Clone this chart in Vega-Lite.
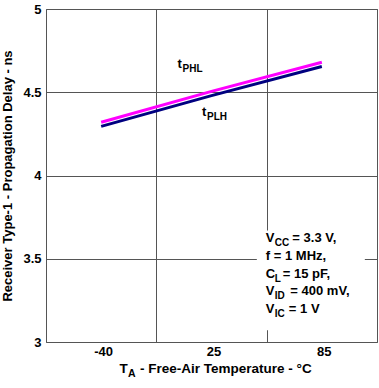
{
  "$schema": "https://vega.github.io/schema/vega-lite/v6.json",
  "autosize": "none",
  "width": 331,
  "height": 333,
  "padding": {"left": 46, "top": 9, "right": 2, "bottom": 46},
  "background": "white",
  "config": {
    "font": "Liberation Sans",
    "view": {"stroke": "#666", "strokeWidth": 1},
    "axis": {"labelFont": "Liberation Sans", "labelFontWeight": "bold", "labelFontSize": 13, "labelColor": "black", "titleFont": "Liberation Sans", "titleFontWeight": "bold", "titleFontSize": 13, "titleColor": "black", "gridColor": "#555", "gridOpacity": 1, "gridWidth": 1, "ticks": false, "domain": false},
    "text": {"font": "Liberation Sans", "fontWeight": "bold", "color": "black", "align": "left", "baseline": "alphabetic"}
  },
  "data": {"values": [
    {"temp": "-40", "delay": 4.32, "series": "tPHL"},
    {"temp": "25", "delay": 4.505, "series": "tPHL"},
    {"temp": "85", "delay": 4.68, "series": "tPHL"},
    {"temp": "-40", "delay": 4.295, "series": "tPLH"},
    {"temp": "25", "delay": 4.48, "series": "tPLH"},
    {"temp": "85", "delay": 4.655, "series": "tPLH"}
  ]},
  "encoding": {
    "x": {"field": "temp", "type": "ordinal", "scale": {"domain": ["-40", "25", "85"], "paddingInner": 0, "paddingOuter": 0}, "axis": {"title": null, "grid": true, "tickBand": "extent", "labelAngle": 0, "labelPadding": 3, "labelOffset": 2}}
  },
  "layer": [
    {
      "mark": {"type": "line", "strokeWidth": 3},
      "encoding": {
        "y": {"field": "delay", "type": "quantitative", "scale": {"domain": [3, 5], "nice": false, "zero": false}, "axis": {"values": [3, 3.5, 4, 4.5, 5], "format": "~g", "grid": true, "labelPadding": 5, "titlePadding": 8, "title": "Receiver Type-1 - Propagation Delay - ns"}},
        "color": {"field": "series", "type": "nominal", "scale": {"domain": ["tPHL", "tPLH"], "range": ["#ff00ff", "#000080"]}, "legend": null}
      }
    },
    {
      "data": {"values": [{"temp": "85"}]},
      "mark": {"type": "rule", "color": "white", "strokeWidth": 108, "xOffset": -11, "strokeCap": "butt"},
      "encoding": {"y": {"datum": 3.67}, "y2": {"datum": 3.07}}
    },
    {
      "data": {"values": [{"temp": "25"}]},
      "mark": {"type": "text", "fontSize": 13, "dx": -34, "text": "t"},
      "encoding": {"y": {"datum": 4.646}}
    },
    {
      "data": {"values": [{"temp": "25"}]},
      "mark": {"type": "text", "fontSize": 10, "dx": -29, "dy": 4, "text": "PHL"},
      "encoding": {"y": {"datum": 4.646}}
    },
    {
      "data": {"values": [{"temp": "25"}]},
      "mark": {"type": "text", "fontSize": 13, "dx": -9.5, "text": "t"},
      "encoding": {"y": {"datum": 4.357}}
    },
    {
      "data": {"values": [{"temp": "25"}]},
      "mark": {"type": "text", "fontSize": 10, "dx": -4.5, "dy": 4, "text": "PLH"},
      "encoding": {"y": {"datum": 4.357}}
    },
    {
      "data": {"values": [{"temp": "85"}]},
      "mark": {"type": "text", "fontSize": 13, "dx": -56, "text": "V"},
      "encoding": {"y": {"datum": 3.6}}
    },
    {
      "data": {"values": [{"temp": "85"}]},
      "mark": {"type": "text", "fontSize": 10, "dx": -47, "dy": 4, "text": "CC"},
      "encoding": {"y": {"datum": 3.6}}
    },
    {
      "data": {"values": [{"temp": "85"}]},
      "mark": {"type": "text", "fontSize": 13, "dx": -29.5, "text": "= 3.3 V,"},
      "encoding": {"y": {"datum": 3.6}}
    },
    {
      "data": {"values": [{"temp": "85"}]},
      "mark": {"type": "text", "fontSize": 13, "dx": -56, "text": "f = 1 MHz,"},
      "encoding": {"y": {"datum": 3.494}}
    },
    {
      "data": {"values": [{"temp": "85"}]},
      "mark": {"type": "text", "fontSize": 13, "dx": -56, "text": "C"},
      "encoding": {"y": {"datum": 3.387}}
    },
    {
      "data": {"values": [{"temp": "85"}]},
      "mark": {"type": "text", "fontSize": 10, "dx": -47, "dy": 4, "text": "L"},
      "encoding": {"y": {"datum": 3.387}}
    },
    {
      "data": {"values": [{"temp": "85"}]},
      "mark": {"type": "text", "fontSize": 13, "dx": -39, "text": "= 15 pF,"},
      "encoding": {"y": {"datum": 3.387}}
    },
    {
      "data": {"values": [{"temp": "85"}]},
      "mark": {"type": "text", "fontSize": 13, "dx": -56, "text": "V"},
      "encoding": {"y": {"datum": 3.281}}
    },
    {
      "data": {"values": [{"temp": "85"}]},
      "mark": {"type": "text", "fontSize": 10, "dx": -47, "dy": 4, "text": "ID"},
      "encoding": {"y": {"datum": 3.281}}
    },
    {
      "data": {"values": [{"temp": "85"}]},
      "mark": {"type": "text", "fontSize": 13, "dx": -31.5, "text": "= 400 mV,"},
      "encoding": {"y": {"datum": 3.281}}
    },
    {
      "data": {"values": [{"temp": "85"}]},
      "mark": {"type": "text", "fontSize": 13, "dx": -56, "text": "V"},
      "encoding": {"y": {"datum": 3.175}}
    },
    {
      "data": {"values": [{"temp": "85"}]},
      "mark": {"type": "text", "fontSize": 10, "dx": -47, "dy": 4, "text": "IC"},
      "encoding": {"y": {"datum": 3.175}}
    },
    {
      "data": {"values": [{"temp": "85"}]},
      "mark": {"type": "text", "fontSize": 13, "dx": -33, "text": "= 1 V"},
      "encoding": {"y": {"datum": 3.175}}
    },
    {
      "data": {"values": [{"temp": "25"}]},
      "mark": {"type": "text", "fontSize": 13.5, "dx": -92, "dy": 31, "text": "T"},
      "encoding": {"y": {"datum": 3}}
    },
    {
      "data": {"values": [{"temp": "25"}]},
      "mark": {"type": "text", "fontSize": 10.5, "dx": -83.5, "dy": 35, "text": "A"},
      "encoding": {"y": {"datum": 3}}
    },
    {
      "data": {"values": [{"temp": "25"}]},
      "mark": {"type": "text", "fontSize": 13.5, "dx": -71.5, "dy": 31, "text": "- Free-Air Temperature - °C"},
      "encoding": {"y": {"datum": 3}}
    }
  ]
}
